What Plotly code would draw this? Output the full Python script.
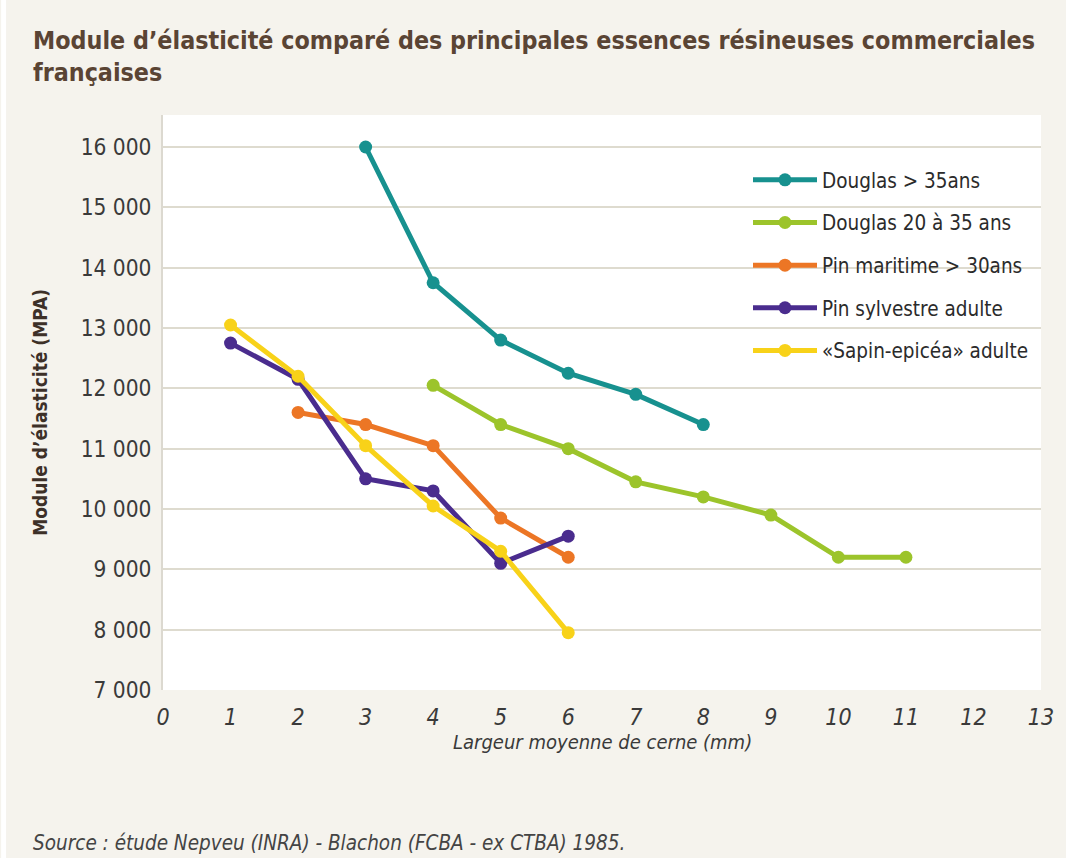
import plotly.graph_objects as go

# ---- data ----
series_names = [
    "Douglas > 35ans",
    "Douglas 20 à 35 ans",
    "Pin maritime > 30ans",
    "Pin sylvestre adulte",
    "«Sapin-epicéa» adulte",
]
douglas35_x = [3, 4, 5, 6, 7, 8]
douglas35_y = [16000, 13750, 12800, 12250, 11900, 11400]
douglas20_x = [4, 5, 6, 7, 8, 9, 10, 11]
douglas20_y = [12050, 11400, 11000, 10450, 10200, 9900, 9200, 9200]
pinmar_x = [2, 3, 4, 5, 6]
pinmar_y = [11600, 11400, 11050, 9850, 9200]
pinsyl_x = [1, 2, 3, 4, 5, 6]
pinsyl_y = [12750, 12150, 10500, 10300, 9100, 9550]
sapin_x = [1, 2, 3, 4, 5, 6]
sapin_y = [13050, 12200, 11050, 10050, 9300, 7950]
x_ticks = list(range(0, 14))
y_ticks = [7000, 8000, 9000, 10000, 11000, 12000, 13000, 14000, 15000, 16000]

colors = ["#17918f", "#9cc42b", "#ec7625", "#4a2c8e", "#f8d219"]
xs = [douglas35_x, douglas20_x, pinmar_x, pinsyl_x, sapin_x]
ys = [douglas35_y, douglas20_y, pinmar_y, pinsyl_y, sapin_y]

W, H = 1066, 858
L, R, T, B = 163, 19, 115, 168
pw, ph = W - L - R, H - T - B

NARROW = "Liberation Sans Narrow, Arial Narrow, DejaVu Sans Condensed, sans-serif"

fig = go.Figure()
for i, (name, x, y, c) in enumerate(zip(series_names, xs, ys, colors)):
    fig.add_trace(go.Scatter(
        x=x, y=y, name=name, mode="lines+markers",
        line=dict(color=c, width=5),
        marker=dict(color=c, size=13),
        legendgroup=f"g{i}",
    ))

fig.update_layout(
    width=W, height=H,
    margin=dict(l=L, r=R, t=T, b=B),
    paper_bgcolor="#f5f3ed",
    plot_bgcolor="#ffffff",
    separators=", ",
    showlegend=True,
    legend=dict(
        x=(752 - L) / pw, y=(690 - 160) / ph, xanchor="left", yanchor="top",
        bgcolor="rgba(255,255,255,0)",
        font=dict(family=NARROW, size=20.5, color="#2b2b2b"),
        itemwidth=64,
        traceorder="grouped",
        tracegroupgap=13,
    ),
    title=dict(
        text="Module d’élasticité comparé des principales essences résineuses commerciales<br>françaises",
        x=33 / W, xanchor="left", xref="container",
        y=1 - 49 / H, yanchor="top", yref="container",
        font=dict(family=NARROW, size=24.8, color="#5a4434", weight="bold"),
    ),
    xaxis=dict(
        range=[0, 13], tickvals=x_ticks, showgrid=False, zeroline=False,
        showline=False, ticks="",
        tickfont=dict(family=NARROW, size=23, color="#3a3a3a", style="italic"),
        ticklabelstandoff=11,
    ),
    yaxis=dict(
        range=[7000, 7000 + (690 - T) / ((690 - 147) / 9000)],
        tickvals=y_ticks, tickformat=",.0f",
        showgrid=True, gridcolor="#dedbcf", gridwidth=2,
        zeroline=False, showline=True, linecolor="#dcd9d0", linewidth=2,
        ticks="",
        tickfont=dict(family=NARROW, size=22.5, color="#3a3a3a"),
        ticklabelstandoff=5,
    ),
    shapes=[
        dict(type="rect", xref="paper", yref="paper",
             x0=-L / pw, x1=(W - L) / pw, y0=(H - T - 12) / ph, y1=(H - T) / ph,
             fillcolor="#ffffff", line=dict(width=0), layer="below"),
        dict(type="rect", xref="paper", yref="paper",
             x0=-L / pw, x1=(-L + 5) / pw, y0=-B / ph, y1=(H - T) / ph,
             fillcolor="#ffffff", line=dict(width=0), layer="below"),
    ],
    annotations=[
        dict(text="Largeur moyenne de cerne (mm)", xref="paper", yref="paper",
             x=(606 - L) / pw, y=-(742 - 690) / ph, xanchor="center", yanchor="middle",
             showarrow=False,
             font=dict(family=NARROW, size=20, color="#3a3a3a", style="italic")),
        dict(text="Module d’élasticité (MPA)", xref="paper", yref="paper",
             x=-(L - 39) / pw, y=(690 - 412) / ph, xanchor="center", yanchor="middle",
             textangle=-90, showarrow=False,
             font=dict(family=NARROW, size=19, color="#3d3028", weight="bold")),
        dict(text="Source : étude Nepveu (INRA) - Blachon (FCBA - ex CTBA) 1985.",
             xref="paper", yref="paper",
             x=-(L - 30) / pw, y=-(843 - 690) / ph, xanchor="left", yanchor="middle",
             showarrow=False,
             font=dict(family=NARROW, size=20.5, color="#444444", style="italic")),
    ],
)

fig.write_html(
    "out.html",
    config={"displayModeBar": False},
    post_script="document.body.style.margin='0';document.body.style.overflow='hidden';",
)
